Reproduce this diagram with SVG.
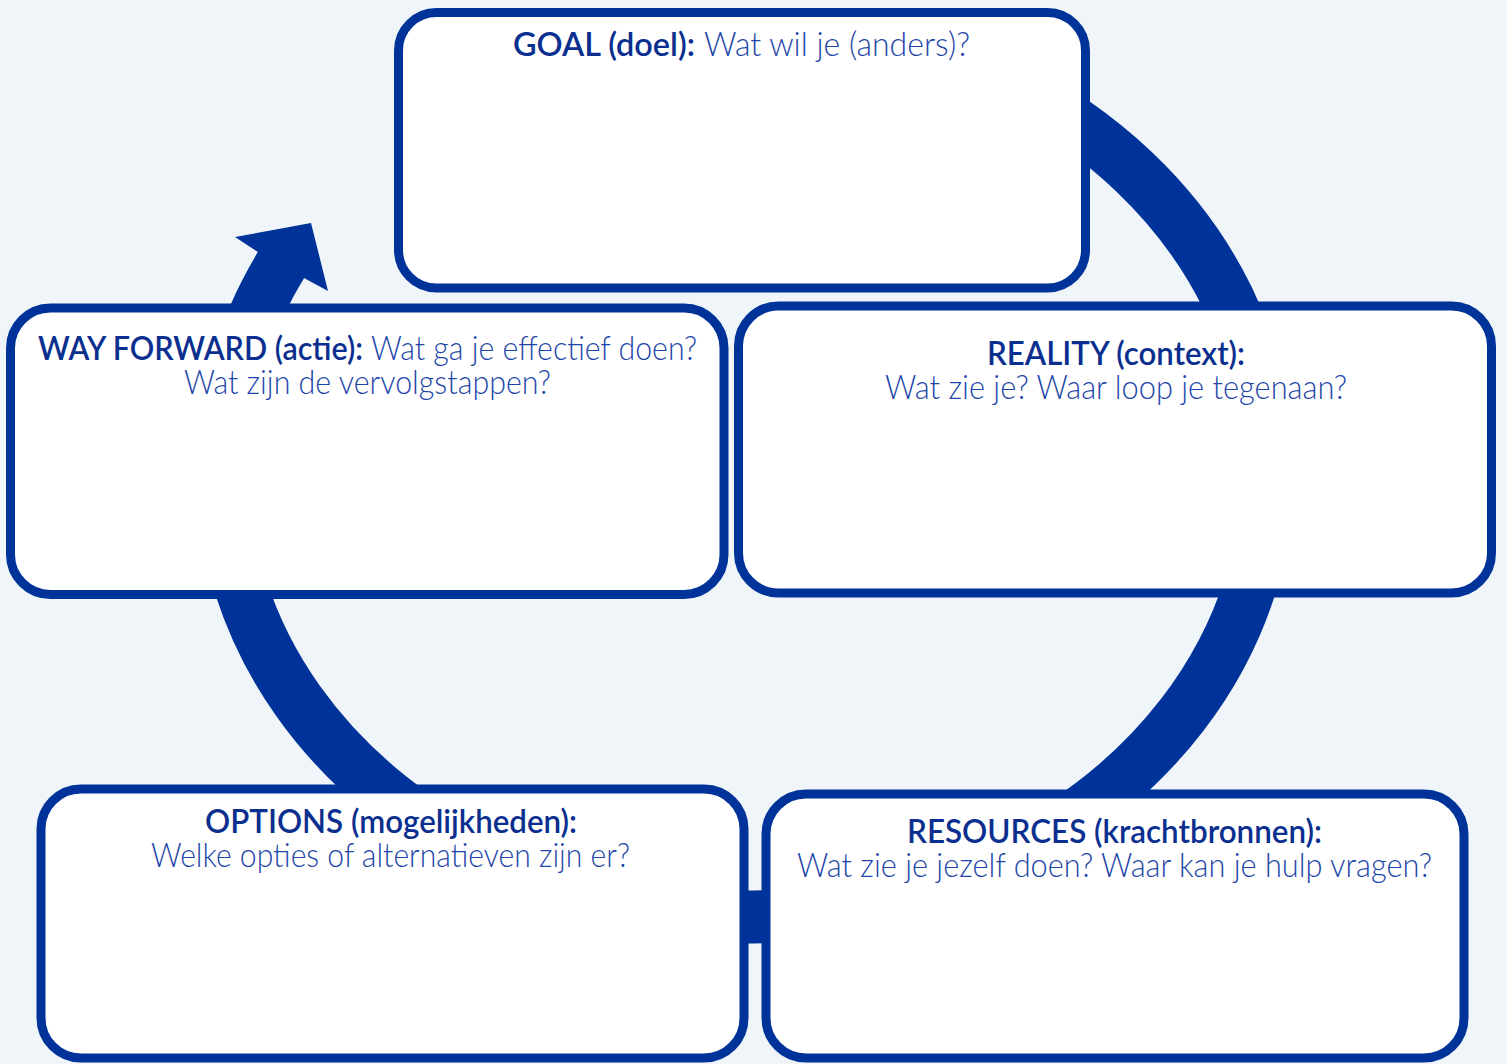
<svg xmlns="http://www.w3.org/2000/svg" width="1507" height="1064" viewBox="0 0 1507 1064">
  <style>
    .box { fill: #ffffff; stroke: #00339a; stroke-width: 9; }
    .b { font-family: Lato, "Open Sans", "Liberation Sans", sans-serif; font-size: 33px; font-weight: 600; fill: #0a2f8f; }
    .r { font-family: Lato, "Open Sans", "Liberation Sans", sans-serif; font-size: 33px; font-weight: 300; fill: #1d46a8; }
  </style>
  <rect width="1507" height="1064" fill="#eff5f8"/>
  <g id="connectors">
    <path d="M 1005.5 82.9 A 525 447 0 0 1 743 917 A 525 447 0 0 1 281 265" fill="none" stroke="#00339a" stroke-width="53"/>
    <polygon points="256.5,254.5 258,252 235,237 311,223 328,291 304,278 302.5,280.5" fill="#00339a"/>
  </g>
  <g id="goal">
    <rect class="box" x="398.5" y="12.5" width="687" height="275.5" rx="38"/>
    <text class="b" x="513" y="56" textLength="182" lengthAdjust="spacingAndGlyphs">GOAL (doel):</text>
    <text class="r" x="704" y="56" textLength="266" lengthAdjust="spacingAndGlyphs">Wat wil je (anders)?</text>
  </g>
  <g id="way-forward">
    <rect class="box" x="10.5" y="308" width="713.5" height="286.5" rx="40"/>
    <text class="b" x="38" y="360" textLength="325" lengthAdjust="spacingAndGlyphs">WAY FORWARD (actie):</text>
    <text class="r" x="371" y="360" textLength="326" lengthAdjust="spacingAndGlyphs">Wat ga je effectief doen?</text>
    <text class="r" x="184" y="394" textLength="367" lengthAdjust="spacingAndGlyphs">Wat zijn de vervolgstappen?</text>
  </g>
  <g id="reality">
    <rect class="box" x="738.5" y="306" width="753" height="287" rx="40"/>
    <text class="b" x="987" y="365" textLength="258" lengthAdjust="spacingAndGlyphs">REALITY (context):</text>
    <text class="r" x="885" y="399" textLength="462" lengthAdjust="spacingAndGlyphs">Wat zie je? Waar loop je tegenaan?</text>
  </g>
  <g id="options">
    <rect class="box" x="41" y="789" width="703" height="269" rx="40"/>
    <text class="b" x="205" y="833" textLength="372" lengthAdjust="spacingAndGlyphs">OPTIONS (mogelijkheden):</text>
    <text class="r" x="151" y="867" textLength="479" lengthAdjust="spacingAndGlyphs">Welke opties of alternatieven zijn er?</text>
  </g>
  <g id="resources">
    <rect class="box" x="766" y="794" width="698" height="264" rx="40"/>
    <text class="b" x="907" y="843" textLength="415" lengthAdjust="spacingAndGlyphs">RESOURCES (krachtbronnen):</text>
    <text class="r" x="797" y="877" textLength="635" lengthAdjust="spacingAndGlyphs">Wat zie je jezelf doen? Waar kan je hulp vragen?</text>
  </g>
</svg>
